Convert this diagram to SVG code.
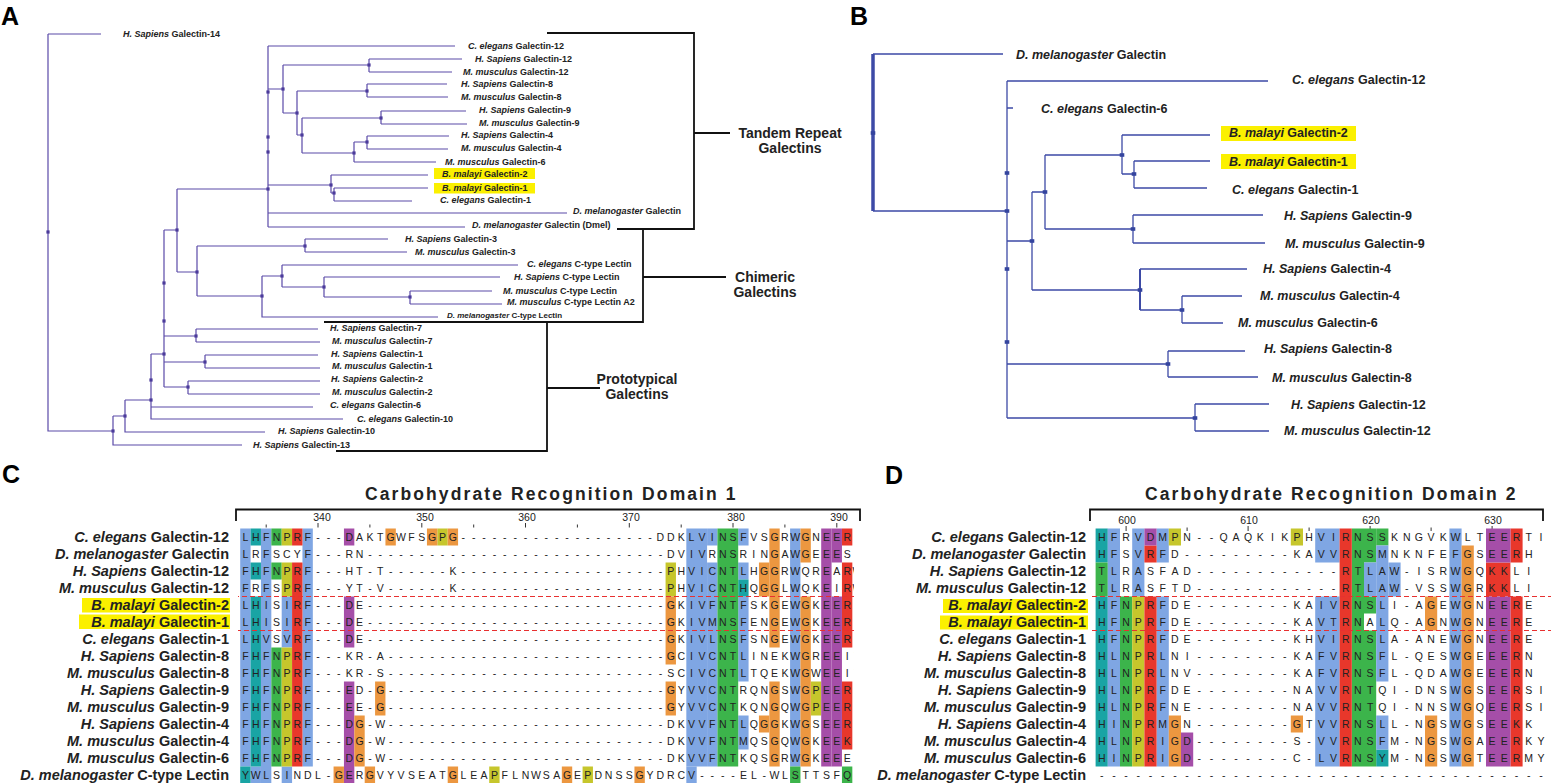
<svg xmlns="http://www.w3.org/2000/svg" width="1551" height="783" viewBox="0 0 1551 783">
<style>
text{font-family:"Liberation Sans",Arial,sans-serif;fill:#222}
.it{font-style:italic}
.ta{font-size:9px;font-weight:bold}
.ta8{font-size:8px;font-weight:bold}
.tb{font-size:12.5px;font-weight:bold}
.grp{font-size:14px;font-weight:bold;text-anchor:middle}
.pl{font-size:25px;font-weight:bold;fill:#000}
.ti{font-size:17.5px;font-weight:bold;letter-spacing:2.1px}
.num{font-size:10.5px;text-anchor:middle}
.lab{font-size:14.5px;font-weight:bold;text-anchor:end}
.res{font-size:10.5px;fill:#333;text-anchor:middle}
.trA{fill:none;stroke:#5a4aa8;stroke-width:1.2}
.trB{fill:none;stroke:#3d4aa6;stroke-width:1.3}
.br{fill:none;stroke:#111;stroke-width:1.8}
.nA{fill:#4b3b9b}
.nB{fill:#34449e}
.hl{fill:#fbf000}
.dash{stroke:#e83030;stroke-width:1;stroke-dasharray:5 3}
.bl{fill:#7fa6e3}.te{fill:#19a4a4}.gr{fill:#3cb44b}.ye{fill:#c6c62c}.re{fill:#e8372b}.pu{fill:#a54ea8}.or{fill:#ec9740}
</style>
<defs>
<rect id="nodeA" x="-1.6" y="-1.6" width="3.2" height="3.2" class="nA"/>
<rect id="nodeB" x="-2.3" y="-1.8" width="4.6" height="3.6" class="nB"/>
<clipPath id="clipC"><rect x="238" y="520" width="616" height="265"/></clipPath>
</defs>

<g id="panel-labels">
<text class="pl" x="1" y="25">A</text>
<text class="pl" x="850" y="25">B</text>
<text class="pl" x="2" y="483">C</text>
<text class="pl" x="885" y="484">D</text>
</g>

<!-- PANEL A -->
<g id="A-connectors">
<path class="trA" d="M48,34 H101 M48,34 V431 H113 M113,416 V445 H242 M113,416 H125 M125,400 V432 H265 M125,400 H151 M151,354 V419 H343 M151,407 H313 M151,354 H164 M164,230 V387 M164,230 H177 M164,336 H196 M196,329 V342 M196,329 H318 M196,342 H320 M164,362 H205 M205,355 V368 M205,355 H318 M205,368 H320 M164,387 H188 M188,381 V394 M188,381 H320 M188,394 H320 M177,189 V272 M177,189 H268 M177,272 H197 M197,246 V296 M197,246 H305 M305,239 V252 M305,239 H388 M305,252 H407 M197,296 H262 M262,276 V317 H438 M262,276 H282 M282,265 V287 M282,265 H518 M282,287 H324 M324,277 V297 M324,277 H500 M324,297 H410 M410,291 V304 M410,291 H492 M410,304 H502 M268,46 V227 M268,46 H455 M268,89 H283 M283,65 V113 M283,65 H369 M369,59 V72 M369,59 H462 M369,72 H452 M283,113 H297 M297,91 V135 M297,91 H367 M367,84 V97 M367,84 H447 M367,97 H448 M297,135 H302 M302,118 V153 M302,118 H381 M381,111 V124 M381,111 H466 M381,124 H467 M302,153 H354 M354,142 V162 M354,142 H367 M367,136 V149 M367,136 H449 M367,149 H448 M354,162 H436 M268,185 H331 M331,175 V193 M331,175 H428 M331,193 H334 M334,188 V201 M334,188 H428 M334,201 H412 M268,213 H567 M268,227 H465"/>
<use href="#nodeA" x="48" y="232"/><use href="#nodeA" x="113" y="431"/><use href="#nodeA" x="125" y="416"/><use href="#nodeA" x="151" y="400"/><use href="#nodeA" x="151" y="380"/><use href="#nodeA" x="164" y="354"/><use href="#nodeA" x="164" y="321"/><use href="#nodeA" x="164" y="283"/><use href="#nodeA" x="177" y="230"/><use href="#nodeA" x="196" y="336"/><use href="#nodeA" x="205" y="362"/><use href="#nodeA" x="188" y="387"/><use href="#nodeA" x="197" y="272"/><use href="#nodeA" x="305" y="246"/><use href="#nodeA" x="262" y="296"/><use href="#nodeA" x="282" y="276"/><use href="#nodeA" x="324" y="287"/><use href="#nodeA" x="410" y="297"/><use href="#nodeA" x="268" y="92"/><use href="#nodeA" x="268" y="137"/><use href="#nodeA" x="268" y="152"/><use href="#nodeA" x="268" y="189"/><use href="#nodeA" x="283" y="89"/><use href="#nodeA" x="369" y="65"/><use href="#nodeA" x="297" y="113"/><use href="#nodeA" x="367" y="91"/><use href="#nodeA" x="302" y="135"/><use href="#nodeA" x="381" y="118"/><use href="#nodeA" x="354" y="153"/><use href="#nodeA" x="367" y="142"/><use href="#nodeA" x="331" y="185"/><use href="#nodeA" x="334" y="193"/>
<path class="br" d="M547,33 H694 V229 H617 M694,133 H730 M643,229 V322 H324 M643,277 H726 M547,322 V451 H336 M547,388 H600"/>
</g>
<g id="A-groups">
<text class="grp" x="790" y="138">Tandem Repeat</text><text class="grp" x="790" y="153">Galectins</text>
<text class="grp" x="765" y="282">Chimeric</text><text class="grp" x="765" y="297">Galectins</text>
<text class="grp" x="637" y="384">Prototypical</text><text class="grp" x="637" y="399">Galectins</text>
</g>
<g id="A-leaves" class="ta">
<g id="a-hs14"><text x="123" y="37"><tspan class="it">H. Sapiens</tspan> Galectin-14</text></g>
<g id="a-ce12"><text x="468" y="49"><tspan class="it">C. elegans</tspan> Galectin-12</text></g>
<g id="a-hs12"><text x="475" y="62"><tspan class="it">H. Sapiens</tspan> Galectin-12</text></g>
<g id="a-mm12"><text x="463" y="75"><tspan class="it">M. musculus</tspan> Galectin-12</text></g>
<g id="a-hs8"><text x="461" y="87"><tspan class="it">H. Sapiens</tspan> Galectin-8</text></g>
<g id="a-mm8"><text x="461" y="100"><tspan class="it">M. musculus</tspan> Galectin-8</text></g>
<g id="a-hs9"><text x="479" y="113"><tspan class="it">H. Sapiens</tspan> Galectin-9</text></g>
<g id="a-mm9"><text x="479" y="126"><tspan class="it">M. musculus</tspan> Galectin-9</text></g>
<g id="a-hs4"><text x="461" y="138"><tspan class="it">H. Sapiens</tspan> Galectin-4</text></g>
<g id="a-mm4"><text x="461" y="151"><tspan class="it">M. musculus</tspan> Galectin-4</text></g>
<g id="a-mm6"><text x="445" y="165"><tspan class="it">M. musculus</tspan> Galectin-6</text></g>
<g id="a-bm2"><rect class="hl" x="434" y="168" width="101" height="11"/><text x="442" y="177"><tspan class="it">B. malayi</tspan> Galectin-2</text></g>
<g id="a-bm1"><rect class="hl" x="434" y="183" width="101" height="10.5"/><text x="442" y="191"><tspan class="it">B. malayi</tspan> Galectin-1</text></g>
<g id="a-ce1"><text x="440" y="203"><tspan class="it">C. elegans</tspan> Galectin-1</text></g>
<g id="a-dm"><text x="573" y="214"><tspan class="it">D. melanogaster</tspan> Galectin</text></g>
<g id="a-dmel"><text x="472" y="228"><tspan class="it">D. melanogaster</tspan> Galectin (Dmel)</text></g>
<g id="a-hs3"><text x="405" y="242"><tspan class="it">H. Sapiens</tspan> Galectin-3</text></g>
<g id="a-mm3"><text x="415" y="255"><tspan class="it">M. musculus</tspan> Galectin-3</text></g>
<g id="a-cect"><text x="527" y="267"><tspan class="it">C. elegans</tspan> C-type Lectin</text></g>
<g id="a-hsct"><text x="514" y="280"><tspan class="it">H. Sapiens</tspan> C-type Lectin</text></g>
<g id="a-mmct"><text x="503" y="294"><tspan class="it">M. musculus</tspan> C-type Lectin</text></g>
<g id="a-mmcta2"><text x="507" y="305"><tspan class="it">M. musculus</tspan> C-type Lectin A2</text></g>
<g id="a-dmct"><text class="ta8" x="447" y="318"><tspan class="it">D. melanogaster</tspan> C-type Lectin</text></g>
<g id="a-hs7"><text x="330" y="331"><tspan class="it">H. Sapiens</tspan> Galectin-7</text></g>
<g id="a-mm7"><text x="332" y="344"><tspan class="it">M. musculus</tspan> Galectin-7</text></g>
<g id="a-hs1"><text x="331" y="357"><tspan class="it">H. Sapiens</tspan> Galectin-1</text></g>
<g id="a-mm1"><text x="332" y="369"><tspan class="it">M. musculus</tspan> Galectin-1</text></g>
<g id="a-hs2"><text x="331" y="382"><tspan class="it">H. Sapiens</tspan> Galectin-2</text></g>
<g id="a-mm2"><text x="332" y="395"><tspan class="it">M. musculus</tspan> Galectin-2</text></g>
<g id="a-ce6"><text x="330" y="408"><tspan class="it">C. elegans</tspan> Galectin-6</text></g>
<g id="a-ce10"><text x="357" y="422"><tspan class="it">C. elegans</tspan> Galectin-10</text></g>
<g id="a-hs10"><text x="278" y="434"><tspan class="it">H. Sapiens</tspan> Galectin-10</text></g>
<g id="a-hs13"><text x="253" y="448"><tspan class="it">H. Sapiens</tspan> Galectin-13</text></g>
</g>

<!-- PANEL B -->
<g id="B-connectors">
<path class="trB" d="M873,54 H1003 M873,211 H1007 M1007,81 V418 M1007,81 H1268 M1007,108 H1013 M1007,241 H1032 M1032,192 V290 M1032,192 H1045 M1045,155 V229 M1045,155 H1122 M1122,135 V174 M1122,135 H1210 M1122,174 H1134 M1134,161 V188 M1134,161 H1210 M1134,188 H1207 M1045,229 H1133 M1133,215 V243 M1133,215 H1263 M1133,243 H1265 M1032,290 H1140 M1140,269 H1247 M1140,310 H1182 M1182,296 V323 M1182,296 H1242 M1182,323 H1223 M1007,364 H1168 M1168,351 V377 M1168,351 H1245 M1168,377 H1258 M1007,418 H1195 M1195,404 V431 M1195,404 H1269 M1195,431 H1269"/>
<path class="trB" d="M873,54 V211" style="stroke-width:3.5"/>
<path class="trB" d="M1140,269 V310" style="stroke-width:2"/>
<use href="#nodeB" x="873" y="133"/><use href="#nodeB" x="1007" y="173"/><use href="#nodeB" x="1007" y="211"/><use href="#nodeB" x="1007" y="269"/><use href="#nodeB" x="1007" y="342"/><use href="#nodeB" x="1032" y="241"/><use href="#nodeB" x="1045" y="192"/><use href="#nodeB" x="1122" y="155"/><use href="#nodeB" x="1134" y="174"/><use href="#nodeB" x="1133" y="229"/><use href="#nodeB" x="1140" y="290"/><use href="#nodeB" x="1182" y="310"/><use href="#nodeB" x="1168" y="364"/><use href="#nodeB" x="1195" y="418"/>
</g>
<g id="B-leaves" class="tb">
<g id="b-dm"><text x="1016" y="58.5"><tspan class="it">D. melanogaster</tspan> Galectin</text></g>
<g id="b-ce12"><text x="1292" y="83.5"><tspan class="it">C. elegans</tspan> Galectin-12</text></g>
<g id="b-ce6"><text x="1041" y="112.5"><tspan class="it">C. elegans</tspan> Galectin-6</text></g>
<g id="b-bm2"><rect class="hl" x="1221" y="126" width="135" height="15"/><text x="1229" y="137"><tspan class="it">B. malayi</tspan> Galectin-2</text></g>
<g id="b-bm1"><rect class="hl" x="1221" y="154" width="135" height="15"/><text x="1229" y="165.5"><tspan class="it">B. malayi</tspan> Galectin-1</text></g>
<g id="b-ce1"><text x="1232" y="193.5"><tspan class="it">C. elegans</tspan> Galectin-1</text></g>
<g id="b-hs9"><text x="1284" y="219.5"><tspan class="it">H. Sapiens</tspan> Galectin-9</text></g>
<g id="b-mm9"><text x="1285" y="247.5"><tspan class="it">M. musculus</tspan> Galectin-9</text></g>
<g id="b-hs4"><text x="1263" y="272.5"><tspan class="it">H. Sapiens</tspan> Galectin-4</text></g>
<g id="b-mm4"><text x="1260" y="299.5"><tspan class="it">M. musculus</tspan> Galectin-4</text></g>
<g id="b-mm6"><text x="1238" y="326.5"><tspan class="it">M. musculus</tspan> Galectin-6</text></g>
<g id="b-hs8"><text x="1264" y="352.5"><tspan class="it">H. Sapiens</tspan> Galectin-8</text></g>
<g id="b-mm8"><text x="1272" y="381.5"><tspan class="it">M. musculus</tspan> Galectin-8</text></g>
<g id="b-hs12"><text x="1291" y="408.5"><tspan class="it">H. Sapiens</tspan> Galectin-12</text></g>
<g id="b-mm12"><text x="1284" y="434.5"><tspan class="it">M. musculus</tspan> Galectin-12</text></g>
</g>

<!-- PANEL C -->
<g id="C-header">
<text class="ti" x="365" y="500">Carbohydrate Recognition Domain 1</text>
<path class="br" d="M236,521 V509.5 H860 V521"/>
<path stroke="#333" stroke-width="1" d="M318,523 V527.5 M421.8,523 V527.5 M525.5,523 V527.5 M629.3,523 V527.5 M733,523 V527.5 M836.8,523 V527.5 M266.2,524.5 V527.5 M369.9,524.5 V527.5 M473.7,524.5 V527.5 M577.4,524.5 V527.5 M681.2,524.5 V527.5 M784.9,524.5 V527.5"/>
<text class="num" x="322" y="521">340</text><text class="num" x="425" y="521">350</text><text class="num" x="527" y="521">360</text><text class="num" x="631" y="521">370</text><text class="num" x="736" y="521">380</text><text class="num" x="839" y="521">390</text>
</g>
<g id="C-labels" class="lab">
<g id="c-ce12"><text x="229" y="542"><tspan class="it">C. elegans</tspan> Galectin-12</text></g>
<g id="c-dm"><text x="229" y="559"><tspan class="it">D. melanogaster</tspan> Galectin</text></g>
<g id="c-hs12"><text x="229" y="576"><tspan class="it">H. Sapiens</tspan> Galectin-12</text></g>
<g id="c-mm12"><text x="229" y="593"><tspan class="it">M. musculus</tspan> Galectin-12</text></g>
<g id="c-bm2"><rect class="hl" x="82" y="598" width="148" height="14.5"/><text x="229" y="610"><tspan class="it">B. malayi</tspan> Galectin-2</text></g>
<g id="c-bm1"><rect class="hl" x="79" y="614.5" width="151" height="14.5"/><text x="229" y="627"><tspan class="it">B. malayi</tspan> Galectin-1</text></g>
<g id="c-ce1"><text x="229" y="644"><tspan class="it">C. elegans</tspan> Galectin-1</text></g>
<g id="c-hs8"><text x="229" y="661"><tspan class="it">H. Sapiens</tspan> Galectin-8</text></g>
<g id="c-mm8"><text x="229" y="678"><tspan class="it">M. musculus</tspan> Galectin-8</text></g>
<g id="c-hs9"><text x="229" y="695"><tspan class="it">H. Sapiens</tspan> Galectin-9</text></g>
<g id="c-mm9"><text x="229" y="712"><tspan class="it">M. musculus</tspan> Galectin-9</text></g>
<g id="c-hs4"><text x="229" y="729"><tspan class="it">H. Sapiens</tspan> Galectin-4</text></g>
<g id="c-mm4"><text x="229" y="746"><tspan class="it">M. musculus</tspan> Galectin-4</text></g>
<g id="c-mm6"><text x="229" y="763"><tspan class="it">M. musculus</tspan> Galectin-6</text></g>
<g id="c-dmct"><text x="229" y="780"><tspan class="it">D. melanogaster</tspan> C-type Lectin</text></g>
</g>
<g id="C-alignment" clip-path="url(#clipC)">
<g transform="translate(240.2,528.5) scale(10.375,17)">
<g class="bl"><rect x="0" y="0" width="1" height="14"/><rect x="1" y="14" width="1" height="1"/><rect x="2" y="0" width="1" height="15"/><rect x="4" y="4" width="1" height="3"/><rect x="4" y="14" width="1" height="1"/><rect x="6" y="0" width="1" height="14"/><rect x="43" y="0" width="2" height="14"/><rect x="45" y="0" width="1" height="1"/><rect x="45" y="2" width="1" height="12"/><rect x="43" y="14" width="1" height="1"/><rect x="48" y="0" width="1" height="1"/><rect x="48" y="2" width="1" height="1"/><rect x="48" y="4" width="1" height="5"/><rect x="48" y="11" width="1" height="2"/><rect x="53" y="0" width="1" height="14"/></g>
<g class="te"><rect x="0" y="14" width="1" height="1"/><rect x="1" y="0" width="1" height="1"/><rect x="1" y="2" width="1" height="1"/><rect x="1" y="4" width="1" height="10"/><rect x="48" y="3" width="1" height="1"/></g>
<g class="gr"><rect x="3" y="0" width="1" height="1"/><rect x="3" y="2" width="1" height="1"/><rect x="3" y="7" width="1" height="7"/><rect x="46" y="0" width="2" height="14"/><rect x="53" y="14" width="1" height="1"/><rect x="58" y="14" width="1" height="1"/></g>
<g class="ye"><rect x="4" y="0" width="1" height="1"/><rect x="4" y="2" width="1" height="2"/><rect x="4" y="7" width="1" height="7"/><rect x="19" y="0" width="1" height="1"/><rect x="24" y="14" width="1" height="1"/><rect x="33" y="14" width="1" height="1"/><rect x="41" y="2" width="1" height="2"/><rect x="55" y="9" width="1" height="2"/></g>
<g class="re"><rect x="5" y="0" width="1" height="1"/><rect x="5" y="2" width="1" height="12"/><rect x="58" y="0" width="1" height="1"/><rect x="58" y="2" width="1" height="5"/><rect x="58" y="9" width="1" height="4"/></g>
<g class="pu"><rect x="10" y="0" width="1" height="1"/><rect x="10" y="4" width="1" height="3"/><rect x="10" y="9" width="1" height="6"/><rect x="56" y="0" width="1" height="14"/><rect x="57" y="0" width="1" height="2"/><rect x="57" y="4" width="1" height="10"/></g>
<g class="or"><rect x="9" y="14" width="1" height="1"/><rect x="11" y="11" width="1" height="3"/><rect x="12" y="14" width="1" height="1"/><rect x="13" y="9" width="1" height="2"/><rect x="14" y="0" width="1" height="1"/><rect x="18" y="0" width="1" height="1"/><rect x="20" y="0" width="1" height="1"/><rect x="20" y="14" width="1" height="1"/><rect x="31" y="14" width="1" height="1"/><rect x="38" y="14" width="1" height="1"/><rect x="41" y="4" width="1" height="4"/><rect x="41" y="9" width="1" height="2"/><rect x="50" y="2" width="1" height="2"/><rect x="50" y="11" width="1" height="1"/><rect x="51" y="0" width="1" height="7"/><rect x="51" y="9" width="1" height="5"/><rect x="54" y="0" width="1" height="2"/><rect x="54" y="4" width="1" height="10"/></g>
</g>
<g class="res">
<text y="541" x="245.4 255.8 266.2 276.5 286.9 297.3 307.7 318 328.4 338.8 349.2 359.5 369.9 380.3 390.7 401 411.4 421.8 432.2 442.5 452.9 463.3 473.7 484 494.4 504.8 515.2 525.5 535.9 546.3 556.7 567 577.4 587.8 598.2 608.5 618.9 629.3 639.7 650 660.4 670.8 681.2 691.5 701.9 712.3 722.7 733 743.4 753.8 764.2 774.5 784.9 795.3 805.7 816 826.4 836.8 847.2 857.5">LHFNPRF---DAKTGWFSGPG-------------------DDKLVINSFVSGRWGNEERI</text>
<text y="558" x="245.4 255.8 266.2 276.5 286.9 297.3 307.7 318 328.4 338.8 349.2 359.5 369.9 380.3 390.7 401 411.4 421.8 432.2 442.5 452.9 463.3 473.7 484 494.4 504.8 515.2 525.5 535.9 546.3 556.7 567 577.4 587.8 598.2 608.5 618.9 629.3 639.7 650 660.4 670.8 681.2 691.5 701.9 712.3 722.7 733 743.4 753.8 764.2 774.5 784.9 795.3 805.7 816 826.4 836.8 847.2 857.5">LRFSCYF---RN-----------------------------DVIVRNSRINGAWGEEESI</text>
<text y="575" x="245.4 255.8 266.2 276.5 286.9 297.3 307.7 318 328.4 338.8 349.2 359.5 369.9 380.3 390.7 401 411.4 421.8 432.2 442.5 452.9 463.3 473.7 484 494.4 504.8 515.2 525.5 535.9 546.3 556.7 567 577.4 587.8 598.2 608.5 618.9 629.3 639.7 650 660.4 670.8 681.2 691.5 701.9 712.3 722.7 733 743.4 753.8 764.2 774.5 784.9 795.3 805.7 816 826.4 836.8 847.2 857.5">FHFNPRF---HT-T------K--------------------PHVICNTLHGGRWQREARW</text>
<text y="592" x="245.4 255.8 266.2 276.5 286.9 297.3 307.7 318 328.4 338.8 349.2 359.5 369.9 380.3 390.7 401 411.4 421.8 432.2 442.5 452.9 463.3 473.7 484 494.4 504.8 515.2 525.5 535.9 546.3 556.7 567 577.4 587.8 598.2 608.5 618.9 629.3 639.7 650 660.4 670.8 681.2 691.5 701.9 712.3 722.7 733 743.4 753.8 764.2 774.5 784.9 795.3 805.7 816 826.4 836.8 847.2 857.5">FRFSPRF---YT-V------K--------------------PHVICNTHQGGLWQKEIRW</text>
<text y="609" x="245.4 255.8 266.2 276.5 286.9 297.3 307.7 318 328.4 338.8 349.2 359.5 369.9 380.3 390.7 401 411.4 421.8 432.2 442.5 452.9 463.3 473.7 484 494.4 504.8 515.2 525.5 535.9 546.3 556.7 567 577.4 587.8 598.2 608.5 618.9 629.3 639.7 650 660.4 670.8 681.2 691.5 701.9 712.3 722.7 733 743.4 753.8 764.2 774.5 784.9 795.3 805.7 816 826.4 836.8 847.2 857.5">LHISIRF---DE-----------------------------GKIVFNTFSKGEWGKEER</text>
<text y="626" x="245.4 255.8 266.2 276.5 286.9 297.3 307.7 318 328.4 338.8 349.2 359.5 369.9 380.3 390.7 401 411.4 421.8 432.2 442.5 452.9 463.3 473.7 484 494.4 504.8 515.2 525.5 535.9 546.3 556.7 567 577.4 587.8 598.2 608.5 618.9 629.3 639.7 650 660.4 670.8 681.2 691.5 701.9 712.3 722.7 733 743.4 753.8 764.2 774.5 784.9 795.3 805.7 816 826.4 836.8 847.2 857.5">LHISIRF---DE-----------------------------GKIVMNSFENGEWGKEER</text>
<text y="643" x="245.4 255.8 266.2 276.5 286.9 297.3 307.7 318 328.4 338.8 349.2 359.5 369.9 380.3 390.7 401 411.4 421.8 432.2 442.5 452.9 463.3 473.7 484 494.4 504.8 515.2 525.5 535.9 546.3 556.7 567 577.4 587.8 598.2 608.5 618.9 629.3 639.7 650 660.4 670.8 681.2 691.5 701.9 712.3 722.7 733 743.4 753.8 764.2 774.5 784.9 795.3 805.7 816 826.4 836.8 847.2 857.5">LHVSVRF---DE-----------------------------GKIVLNSFSNGEWGKEER</text>
<text y="660" x="245.4 255.8 266.2 276.5 286.9 297.3 307.7 318 328.4 338.8 349.2 359.5 369.9 380.3 390.7 401 411.4 421.8 432.2 442.5 452.9 463.3 473.7 484 494.4 504.8 515.2 525.5 535.9 546.3 556.7 567 577.4 587.8 598.2 608.5 618.9 629.3 639.7 650 660.4 670.8 681.2 691.5 701.9 712.3 722.7 733 743.4 753.8 764.2 774.5 784.9 795.3 805.7 816 826.4 836.8 847.2 857.5">FHFNPRF---KR-A---------------------------GCIVCNTLINEKWGREEIT</text>
<text y="677" x="245.4 255.8 266.2 276.5 286.9 297.3 307.7 318 328.4 338.8 349.2 359.5 369.9 380.3 390.7 401 411.4 421.8 432.2 442.5 452.9 463.3 473.7 484 494.4 504.8 515.2 525.5 535.9 546.3 556.7 567 577.4 587.8 598.2 608.5 618.9 629.3 639.7 650 660.4 670.8 681.2 691.5 701.9 712.3 722.7 733 743.4 753.8 764.2 774.5 784.9 795.3 805.7 816 826.4 836.8 847.2 857.5">FHFNPRF---KR-S---------------------------SCIVCNTLTQEKWGWEEIT</text>
<text y="694" x="245.4 255.8 266.2 276.5 286.9 297.3 307.7 318 328.4 338.8 349.2 359.5 369.9 380.3 390.7 401 411.4 421.8 432.2 442.5 452.9 463.3 473.7 484 494.4 504.8 515.2 525.5 535.9 546.3 556.7 567 577.4 587.8 598.2 608.5 618.9 629.3 639.7 650 660.4 670.8 681.2 691.5 701.9 712.3 722.7 733 743.4 753.8 764.2 774.5 784.9 795.3 805.7 816 826.4 836.8 847.2 857.5">FHFNPRF---ED-G---------------------------GYVVCNTRQNGSWGPEERI</text>
<text y="711" x="245.4 255.8 266.2 276.5 286.9 297.3 307.7 318 328.4 338.8 349.2 359.5 369.9 380.3 390.7 401 411.4 421.8 432.2 442.5 452.9 463.3 473.7 484 494.4 504.8 515.2 525.5 535.9 546.3 556.7 567 577.4 587.8 598.2 608.5 618.9 629.3 639.7 650 660.4 670.8 681.2 691.5 701.9 712.3 722.7 733 743.4 753.8 764.2 774.5 784.9 795.3 805.7 816 826.4 836.8 847.2 857.5">FHFNPRF---EE-G---------------------------GYVVCNTKQNGQWGPEERI</text>
<text y="728" x="245.4 255.8 266.2 276.5 286.9 297.3 307.7 318 328.4 338.8 349.2 359.5 369.9 380.3 390.7 401 411.4 421.8 432.2 442.5 452.9 463.3 473.7 484 494.4 504.8 515.2 525.5 535.9 546.3 556.7 567 577.4 587.8 598.2 608.5 618.9 629.3 639.7 650 660.4 670.8 681.2 691.5 701.9 712.3 722.7 733 743.4 753.8 764.2 774.5 784.9 795.3 805.7 816 826.4 836.8 847.2 857.5">FHFNPRF---DG-W---------------------------DKVVFNTLQGGKWGSEERI</text>
<text y="745" x="245.4 255.8 266.2 276.5 286.9 297.3 307.7 318 328.4 338.8 349.2 359.5 369.9 380.3 390.7 401 411.4 421.8 432.2 442.5 452.9 463.3 473.7 484 494.4 504.8 515.2 525.5 535.9 546.3 556.7 567 577.4 587.8 598.2 608.5 618.9 629.3 639.7 650 660.4 670.8 681.2 691.5 701.9 712.3 722.7 733 743.4 753.8 764.2 774.5 784.9 795.3 805.7 816 826.4 836.8 847.2 857.5">FHFNPRF---DG-W---------------------------DKVVFNTMQSGQWGKEEKI</text>
<text y="762" x="245.4 255.8 266.2 276.5 286.9 297.3 307.7 318 328.4 338.8 349.2 359.5 369.9 380.3 390.7 401 411.4 421.8 432.2 442.5 452.9 463.3 473.7 484 494.4 504.8 515.2 525.5 535.9 546.3 556.7 567 577.4 587.8 598.2 608.5 618.9 629.3 639.7 650 660.4 670.8 681.2 691.5 701.9 712.3 722.7 733 743.4 753.8 764.2 774.5 784.9 795.3 805.7 816 826.4 836.8 847.2 857.5">FHFNPRF---DG-W---------------------------DKVVFNTKQSGRWGKEEE</text>
<text y="779" x="245.4 255.8 266.2 276.5 286.9 297.3 307.7 318 328.4 338.8 349.2 359.5 369.9 380.3 390.7 401 411.4 421.8 432.2 442.5 452.9 463.3 473.7 484 494.4 504.8 515.2 525.5 535.9 546.3 556.7 567 577.4 587.8 598.2 608.5 618.9 629.3 639.7 650 660.4 670.8 681.2 691.5 701.9 712.3 722.7 733 743.4 753.8 764.2 774.5 784.9 795.3 805.7 816 826.4 836.8 847.2 857.5">YWLSINDL-GERGVYVSEATGLEAPFLNWSAGEPDNSSGYDRCV----EL-WLSTTSFQI</text>
</g>
<path class="dash" d="M234,596.5 H854 M236,630.5 H854"/>
</g>

<!-- PANEL D -->
<g id="D-header">
<text class="ti" x="1145" y="500">Carbohydrate Recognition Domain 2</text>
<path class="br" d="M1090,521 V509.5 H1543 V521"/>
<path stroke="#333" stroke-width="1" d="M1126.1,526 V531 M1248.1,526 V531 M1370.1,526 V531 M1492.1,526 V531 M1187.1,527.5 V531 M1309.1,527.5 V531 M1431.1,527.5 V531"/>
<text class="num" x="1127" y="524">600</text><text class="num" x="1249" y="524">610</text><text class="num" x="1371" y="524">620</text><text class="num" x="1493" y="524">630</text>
</g>
<g id="D-labels" class="lab">
<g id="d-ce12"><text x="1086" y="542"><tspan class="it">C. elegans</tspan> Galectin-12</text></g>
<g id="d-dm"><text x="1086" y="559"><tspan class="it">D. melanogaster</tspan> Galectin</text></g>
<g id="d-hs12"><text x="1086" y="576"><tspan class="it">H. Sapiens</tspan> Galectin-12</text></g>
<g id="d-mm12"><text x="1086" y="593"><tspan class="it">M. musculus</tspan> Galectin-12</text></g>
<g id="d-bm2"><rect class="hl" x="943" y="599" width="145" height="14"/><text x="1086" y="610"><tspan class="it">B. malayi</tspan> Galectin-2</text></g>
<g id="d-bm1"><rect class="hl" x="940" y="615.5" width="148" height="14"/><text x="1086" y="627"><tspan class="it">B. malayi</tspan> Galectin-1</text></g>
<g id="d-ce1"><text x="1086" y="644"><tspan class="it">C. elegans</tspan> Galectin-1</text></g>
<g id="d-hs8"><text x="1086" y="661"><tspan class="it">H. Sapiens</tspan> Galectin-8</text></g>
<g id="d-mm8"><text x="1086" y="678"><tspan class="it">M. musculus</tspan> Galectin-8</text></g>
<g id="d-hs9"><text x="1086" y="695"><tspan class="it">H. Sapiens</tspan> Galectin-9</text></g>
<g id="d-mm9"><text x="1086" y="712"><tspan class="it">M. musculus</tspan> Galectin-9</text></g>
<g id="d-hs4"><text x="1086" y="729"><tspan class="it">H. Sapiens</tspan> Galectin-4</text></g>
<g id="d-mm4"><text x="1086" y="746"><tspan class="it">M. musculus</tspan> Galectin-4</text></g>
<g id="d-mm6"><text x="1086" y="763"><tspan class="it">M. musculus</tspan> Galectin-6</text></g>
<g id="d-dmct"><text x="1086" y="780"><tspan class="it">D. melanogaster</tspan> C-type Lectin</text></g>
</g>
<g id="D-alignment">
<g transform="translate(1095.6,528.5) scale(12.2,17)">
<g class="te"><rect x="0" y="0" width="1" height="2"/><rect x="0" y="4" width="1" height="10"/><rect x="23" y="13" width="1" height="1"/></g>
<g class="gr"><rect x="0" y="2" width="1" height="2"/><rect x="2" y="4" width="1" height="10"/><rect x="21" y="0" width="1" height="14"/><rect x="22" y="0" width="1" height="2"/><rect x="22" y="4" width="1" height="1"/><rect x="22" y="6" width="1" height="8"/><rect x="23" y="0" width="1" height="1"/></g>
<g class="bl"><rect x="1" y="0" width="1" height="14"/><rect x="3" y="0" width="1" height="4"/><rect x="5" y="0" width="1" height="2"/><rect x="5" y="4" width="1" height="10"/><rect x="18" y="0" width="2" height="2"/><rect x="18" y="4" width="2" height="10"/><rect x="22" y="2" width="1" height="2"/><rect x="23" y="1" width="1" height="8"/><rect x="23" y="11" width="1" height="2"/><rect x="24" y="2" width="1" height="2"/><rect x="29" y="0" width="1" height="14"/></g>
<g class="ye"><rect x="3" y="4" width="1" height="10"/><rect x="6" y="0" width="1" height="1"/><rect x="16" y="0" width="1" height="1"/></g>
<g class="re"><rect x="4" y="1" width="1" height="1"/><rect x="4" y="4" width="1" height="10"/><rect x="20" y="0" width="1" height="14"/><rect x="32" y="2" width="2" height="2"/><rect x="34" y="0" width="1" height="2"/><rect x="34" y="4" width="1" height="10"/></g>
<g class="pu"><rect x="4" y="0" width="1" height="1"/><rect x="7" y="12" width="1" height="2"/><rect x="32" y="0" width="2" height="2"/><rect x="32" y="4" width="2" height="10"/></g>
<g class="or"><rect x="6" y="11" width="1" height="3"/><rect x="16" y="11" width="1" height="1"/><rect x="27" y="4" width="1" height="2"/><rect x="27" y="11" width="1" height="3"/><rect x="30" y="1" width="1" height="13"/></g>
</g>
<g class="res">
<text y="541" x="1101.7 1113.9 1126.1 1138.3 1150.5 1162.7 1174.9 1187.1 1199.3 1211.5 1223.7 1235.9 1248.1 1260.3 1272.5 1284.7 1296.9 1309.1 1321.3 1333.5 1345.7 1357.9 1370.1 1382.3 1394.5 1406.7 1418.9 1431.1 1443.3 1455.5 1467.7 1479.9 1492.1 1504.3 1516.5 1528.7 1540.9">HFRVDMPN--QAQKIKPHVIRNSSKNGVKWLTEERTI</text>
<text y="558" x="1101.7 1113.9 1126.1 1138.3 1150.5 1162.7 1174.9 1187.1 1199.3 1211.5 1223.7 1235.9 1248.1 1260.3 1272.5 1284.7 1296.9 1309.1 1321.3 1333.5 1345.7 1357.9 1370.1 1382.3 1394.5 1406.7 1418.9 1431.1 1443.3 1455.5 1467.7 1479.9 1492.1 1504.3 1516.5 1528.7 1540.9">HFSVRFD---------KAVVRNSMNKNFEFGSEERH</text>
<text y="575" x="1101.7 1113.9 1126.1 1138.3 1150.5 1162.7 1174.9 1187.1 1199.3 1211.5 1223.7 1235.9 1248.1 1260.3 1272.5 1284.7 1296.9 1309.1 1321.3 1333.5 1345.7 1357.9 1370.1 1382.3 1394.5 1406.7 1418.9 1431.1 1443.3 1455.5 1467.7 1479.9 1492.1 1504.3 1516.5 1528.7 1540.9">TLRASFAD------------RTLAW-ISRWGQKKLI</text>
<text y="592" x="1101.7 1113.9 1126.1 1138.3 1150.5 1162.7 1174.9 1187.1 1199.3 1211.5 1223.7 1235.9 1248.1 1260.3 1272.5 1284.7 1296.9 1309.1 1321.3 1333.5 1345.7 1357.9 1370.1 1382.3 1394.5 1406.7 1418.9 1431.1 1443.3 1455.5 1467.7 1479.9 1492.1 1504.3 1516.5 1528.7 1540.9">TLRASFTD------------RTLAW-VSSWGRKKLI</text>
<text y="609" x="1101.7 1113.9 1126.1 1138.3 1150.5 1162.7 1174.9 1187.1 1199.3 1211.5 1223.7 1235.9 1248.1 1260.3 1272.5 1284.7 1296.9 1309.1 1321.3 1333.5 1345.7 1357.9 1370.1 1382.3 1394.5 1406.7 1418.9 1431.1 1443.3 1455.5 1467.7 1479.9 1492.1 1504.3 1516.5 1528.7 1540.9">HFNPRFDE--------KAIVRNSLI-AGEWGNEERE</text>
<text y="626" x="1101.7 1113.9 1126.1 1138.3 1150.5 1162.7 1174.9 1187.1 1199.3 1211.5 1223.7 1235.9 1248.1 1260.3 1272.5 1284.7 1296.9 1309.1 1321.3 1333.5 1345.7 1357.9 1370.1 1382.3 1394.5 1406.7 1418.9 1431.1 1443.3 1455.5 1467.7 1479.9 1492.1 1504.3 1516.5 1528.7 1540.9">HFNPRFDE--------KAVTRNALQ-AGNWGNEERE</text>
<text y="643" x="1101.7 1113.9 1126.1 1138.3 1150.5 1162.7 1174.9 1187.1 1199.3 1211.5 1223.7 1235.9 1248.1 1260.3 1272.5 1284.7 1296.9 1309.1 1321.3 1333.5 1345.7 1357.9 1370.1 1382.3 1394.5 1406.7 1418.9 1431.1 1443.3 1455.5 1467.7 1479.9 1492.1 1504.3 1516.5 1528.7 1540.9">HFNPRFDE--------KHVIRNSLA-ANEWGNEERE</text>
<text y="660" x="1101.7 1113.9 1126.1 1138.3 1150.5 1162.7 1174.9 1187.1 1199.3 1211.5 1223.7 1235.9 1248.1 1260.3 1272.5 1284.7 1296.9 1309.1 1321.3 1333.5 1345.7 1357.9 1370.1 1382.3 1394.5 1406.7 1418.9 1431.1 1443.3 1455.5 1467.7 1479.9 1492.1 1504.3 1516.5 1528.7 1540.9">HLNPRLNI--------KAFVRNSFL-QESWGEEERN</text>
<text y="677" x="1101.7 1113.9 1126.1 1138.3 1150.5 1162.7 1174.9 1187.1 1199.3 1211.5 1223.7 1235.9 1248.1 1260.3 1272.5 1284.7 1296.9 1309.1 1321.3 1333.5 1345.7 1357.9 1370.1 1382.3 1394.5 1406.7 1418.9 1431.1 1443.3 1455.5 1467.7 1479.9 1492.1 1504.3 1516.5 1528.7 1540.9">HLNPRLNV--------KAFVRNSFL-QDAWGEEERN</text>
<text y="694" x="1101.7 1113.9 1126.1 1138.3 1150.5 1162.7 1174.9 1187.1 1199.3 1211.5 1223.7 1235.9 1248.1 1260.3 1272.5 1284.7 1296.9 1309.1 1321.3 1333.5 1345.7 1357.9 1370.1 1382.3 1394.5 1406.7 1418.9 1431.1 1443.3 1455.5 1467.7 1479.9 1492.1 1504.3 1516.5 1528.7 1540.9">HLNPRFDE--------NAVVRNTQI-DNSWGSEERSI</text>
<text y="711" x="1101.7 1113.9 1126.1 1138.3 1150.5 1162.7 1174.9 1187.1 1199.3 1211.5 1223.7 1235.9 1248.1 1260.3 1272.5 1284.7 1296.9 1309.1 1321.3 1333.5 1345.7 1357.9 1370.1 1382.3 1394.5 1406.7 1418.9 1431.1 1443.3 1455.5 1467.7 1479.9 1492.1 1504.3 1516.5 1528.7 1540.9">HLNPRFNE--------NAVVRNTQI-NNSWGQEERSI</text>
<text y="728" x="1101.7 1113.9 1126.1 1138.3 1150.5 1162.7 1174.9 1187.1 1199.3 1211.5 1223.7 1235.9 1248.1 1260.3 1272.5 1284.7 1296.9 1309.1 1321.3 1333.5 1345.7 1357.9 1370.1 1382.3 1394.5 1406.7 1418.9 1431.1 1443.3 1455.5 1467.7 1479.9 1492.1 1504.3 1516.5 1528.7 1540.9">HINPRMGN--------GTVVRNSLL-NGSWGSEEKK</text>
<text y="745" x="1101.7 1113.9 1126.1 1138.3 1150.5 1162.7 1174.9 1187.1 1199.3 1211.5 1223.7 1235.9 1248.1 1260.3 1272.5 1284.7 1296.9 1309.1 1321.3 1333.5 1345.7 1357.9 1370.1 1382.3 1394.5 1406.7 1418.9 1431.1 1443.3 1455.5 1467.7 1479.9 1492.1 1504.3 1516.5 1528.7 1540.9">HLNPRIGD--------S-VVRNSFM-NGSWGAEERKY</text>
<text y="762" x="1101.7 1113.9 1126.1 1138.3 1150.5 1162.7 1174.9 1187.1 1199.3 1211.5 1223.7 1235.9 1248.1 1260.3 1272.5 1284.7 1296.9 1309.1 1321.3 1333.5 1345.7 1357.9 1370.1 1382.3 1394.5 1406.7 1418.9 1431.1 1443.3 1455.5 1467.7 1479.9 1492.1 1504.3 1516.5 1528.7 1540.9">HINPRIGD--------C-LVRNSYM-NGSWGTEERMY</text>
<text y="779" x="1101.7 1113.9 1126.1 1138.3 1150.5 1162.7 1174.9 1187.1 1199.3 1211.5 1223.7 1235.9 1248.1 1260.3 1272.5 1284.7 1296.9 1309.1 1321.3 1333.5 1345.7 1357.9 1370.1 1382.3 1394.5 1406.7 1418.9 1431.1 1443.3 1455.5 1467.7 1479.9 1492.1 1504.3 1516.5 1528.7 1540.9">-------------------------------------</text>
</g>
<path class="dash" d="M1092,596.5 H1551 M1092,630.5 H1551"/>
</g>
</svg>
